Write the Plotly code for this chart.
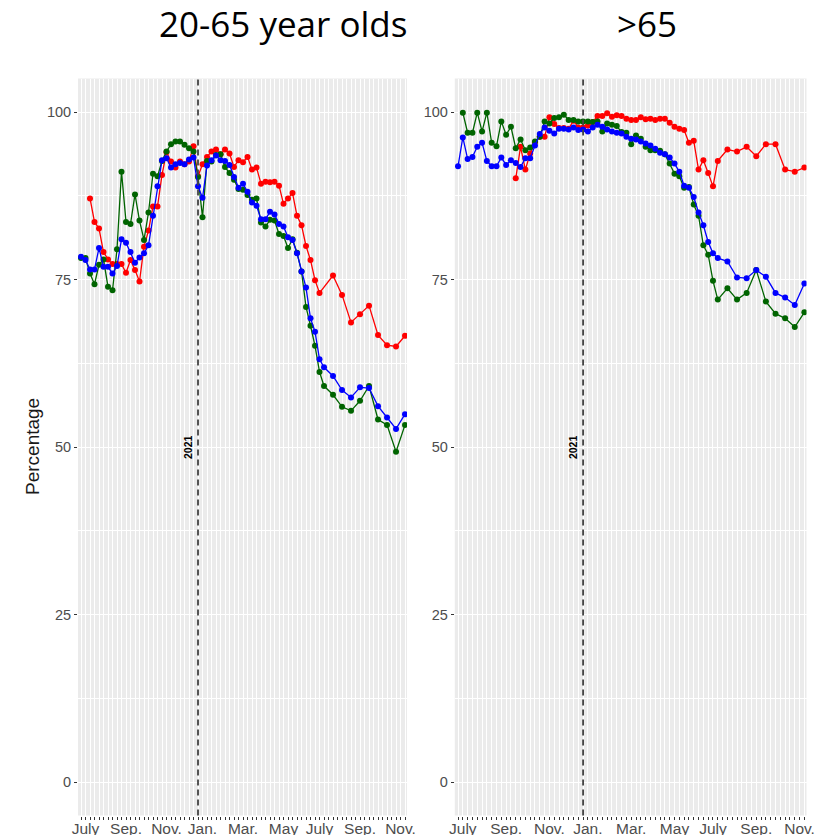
import plotly.graph_objects as go
import pandas as pd

# ---------------- data ----------------
week_start = "2020-07-03"
n_weeks = 73
weeks = [d.strftime("%Y-%m-%d") for d in pd.date_range(week_start, periods=n_weeks, freq="7D")]

tick_weeks = [1, 10, 19, 27, 36, 45, 53, 62, 71]
tick_text = ["July", "Sep.", "Nov.", "Jan.", "Mar.", "May", "July", "Sep.", "Nov."]

N = None
# 20-65 year olds
red_2065 = [N, N, 87.1, 83.6, 82.6, 79.1, 78.0, 77.3, 77.3, 77.3, 76.0, 77.9, 76.4, 74.7, 79.9, 82.3,
            85.9, 85.9, 90.6, 94.0, 92.6, 91.7, 92.6, 92.2, 92.6, 94.9, 90.4, 92.2, 93.3, 94.1, 94.4,
            93.7, 94.4, 93.8, 91.8, 92.8, 92.5, 93.3, 91.4, 91.7, 89.3, 89.6, 89.5, 89.6, 89.0, 86.3,
            87.1, 87.9, 84.5, 83.1, 80.0, 77.9, 74.9, 73.0, N, N, 75.6, N, 72.7, N, 68.6, N, 69.8, N,
            71.1, N, 66.7, N, 65.2, N, 65.0, N, 66.6]
green_2065 = [78.2, 78.2, 75.9, 74.3, 77.2, 78.0, 73.9, 73.4, 79.5, 91.1, 83.6, 83.3, 87.7, 83.8, 80.9,
              85.0, 90.8, 90.4, 92.7, 94.1, 95.2, 95.6, 95.6, 95.1, 94.6, 94.1, 90.3, 84.3, 92.7, 92.6,
              93.6, 93.7, 91.8, 90.9, 89.9, 88.5, 88.4, 87.6, 86.9, 87.1, 83.5, 82.9, 83.9, 83.8, 81.8,
              81.5, 79.7, 81.0, 79.0, 76.2, 70.9, 68.1, 65.1, 61.2, 59.1, N, 57.8, N, 56.0, N, 55.4, N,
              56.9, N, 59.1, N, 54.1, N, 53.3, N, 49.3, N, 53.3]
blue_2065 = [78.4, 77.9, 76.5, 76.5, 79.7, 76.9, 76.9, 75.9, 77.0, 81.0, 80.5, 79.1, 77.5, 78.3, 78.9,
             80.1, 84.5, 88.9, 92.8, 93.1, 91.7, 92.2, 92.4, 92.2, 92.9, 93.2, 88.9, 87.2, 92.0, 92.8,
             93.5, 92.8, 92.7, 92.1, 90.3, 88.7, 89.3, 88.1, 86.5, 86.0, 84.0, 84.0, 85.1, 84.7, 83.3,
             82.9, 81.3, 80.9, 78.9, 76.2, 73.8, 69.2, 67.2, 63.1, 61.9, N, 60.6, N, 58.5, N, 57.4, N,
             58.9, N, 58.8, N, 56.1, N, 54.4, N, 52.7, N, 54.9]
# >65
red_65 = [N, N, N, N, N, N, N, N, N, N, N, N, 90.1, 94.8, 91.4, 93.8, 95.5, 96.3, 96.3, 99.2, 98.2,
          97.6, 97.6, 97.5, 98.7, 97.7, 97.7, 98.0, 98.5, 99.4, 99.4, 99.8, 99.3, 99.5, 99.4, 99.0,
          98.8, 98.8, 99.2, 98.9, 99.0, 98.8, 99.0, 99.0, 98.4, 97.8, 97.5, 97.3, 95.4, 95.7, 91.4,
          92.8, 90.9, 88.9, 92.7, N, 94.4, N, 94.1, N, 94.8, N, 93.4, N, 95.2, N, 95.2, N, 91.4, N,
          91.1, N, 91.7]
green_65 = [N, 99.9, 96.9, 96.9, 99.9, 97.1, 99.9, 95.4, 94.9, 98.6, 96.6, 97.8, 94.6, 95.9, 94.3, 94.7,
            95.6, 96.3, 98.6, 98.3, 99.1, 99.2, 99.6, 98.8, 98.8, 98.6, 98.6, 98.6, 98.5, 98.6, 97.1,
            98.3, 98.1, 97.9, 97.0, 96.9, 95.2, 96.5, 96.0, 94.8, 94.3, 94.3, 94.2, 93.7, 92.3, 90.8,
            90.4, 88.7, 88.8, 86.2, 84.5, 80.1, 78.7, 74.8, 72.0, N, 73.7, N, 72.0, N, 73.0, N, 76.4, N,
            71.7, N, 69.9, N, 69.2, N, 67.9, N, 70.1]
blue_65 = [91.9, 96.2, 93.0, 93.3, 94.8, 95.4, 92.7, 91.9, 91.9, 93.2, 92.1, 92.8, 92.4, 91.8, 93.1, 93.1,
           95.0, 96.7, 97.7, 97.2, 96.8, 97.5, 97.5, 97.4, 97.7, 97.3, 97.4, 97.1, 97.7, 98.1, 97.8,
           97.4, 97.1, 96.9, 96.8, 96.3, 96.0, 95.9, 95.6, 95.3, 95.0, 94.5, 93.9, 93.7, 93.2, 92.3,
           91.1, 89.0, 88.7, 87.3, 85.0, 83.1, 80.6, 78.9, 78.2, N, 77.7, N, 75.3, N, 75.2, N, 76.4, N,
           75.4, N, 73.0, N, 72.3, N, 71.2, N, 74.4]

panel_titles = ["20-65 year olds", ">65"]
y_ticks = [0, 25, 50, 75, 100]
y_minor = [12.5, 37.5, 62.5, 87.5]
marker_year = "2021-01-01"

# ---------------- figure ----------------
# the page body adds an 8px margin, so the figure is 8px smaller and every
# position below is given in page pixels, converted to figure pixels (- 8)
W, H = 830, 827
OFF = 8
COL = {"red": "#FF0000", "green": "#006400", "blue": "#0000FF"}


def px_x(v):
    return (v - OFF) / W


def px_y(v):
    return (H - (v - OFF)) / H


fig = go.Figure()

panels = [
    ("x", "y", red_2065, green_2065, blue_2065),
    ("x2", "y2", red_65, green_65, blue_65),
]
for xa, ya, r, g, b in panels:
    for name, vals in (("red", r), ("green", g), ("blue", b)):
        fig.add_trace(go.Scatter(
            x=weeks, y=vals, xaxis=xa, yaxis=ya, mode="lines+markers",
            connectgaps=True, showlegend=False,
            line=dict(color=COL[name], width=1.3),
            marker=dict(color=COL[name], size=6),
        ))

ticktext_full = [""] * n_weeks
for i, t in zip(tick_weeks, tick_text):
    ticktext_full[i] = t

x_range = ["2020-06-28 08:00", "2021-11-22 02:00"]
xtickfont = dict(family="Liberation Sans, Arial, sans-serif", size=15.5, color="#4D4D4D")
ytickfont = dict(family="Liberation Sans, Arial, sans-serif", size=14.5, color="#4D4D4D")
ydom = [px_y(815.5), px_y(78.5)]

xcommon = dict(
    type="date", range=x_range, tickmode="array", tickvals=weeks, ticktext=ticktext_full,
    showgrid=True, gridcolor="white", gridwidth=1, zeroline=False, showline=False,
    ticks="outside", ticklen=3, tickwidth=1, tickcolor="#333333", tickfont=xtickfont,
    tickangle=0, automargin=False, ticklabelstandoff=-4,
)
ycommon = dict(
    range=[-5, 105], tickmode="array", tickvals=y_ticks, ticktext=[str(v) for v in y_ticks],
    showgrid=True, gridcolor="white", gridwidth=1.2, zeroline=False, showline=False,
    ticks="outside", ticklen=3, tickwidth=1, tickcolor="#333333", tickfont=ytickfont,
    minor=dict(tickvals=y_minor, showgrid=True, gridcolor="white", gridwidth=0.6),
    domain=ydom, automargin=False,
)

fig.update_layout(
    width=W, height=H, margin=dict(l=0, r=0, t=0, b=0, autoexpand=False),
    paper_bgcolor="white", plot_bgcolor="#EBEBEB",
    xaxis=dict(domain=[px_x(78), px_x(407)], anchor="y", **xcommon),
    yaxis=dict(anchor="x", **ycommon),
    xaxis2=dict(domain=[px_x(454.8), px_x(806.5)], anchor="y2", **xcommon),
    yaxis2=dict(anchor="x2", **ycommon),
)

# dashed year line + "2021" label in each panel
for xr, yr in (("x", "y"), ("x2", "y2")):
    fig.add_shape(type="line", xref=xr, yref=f"{yr} domain", x0=marker_year, x1=marker_year,
                  y0=0, y1=1, line=dict(color="#444444", width=1.8, dash="6px,4px"))
    fig.add_annotation(xref=xr, yref=yr, x=marker_year, y=50, text="<b>2021</b>",
                       textangle=-90, showarrow=False, xshift=-10,
                       font=dict(family="Liberation Sans, Arial, sans-serif", size=10.5, color="black"))

# panel titles
for txt, cx in zip(panel_titles, (283, 647)):
    fig.add_annotation(xref="paper", yref="paper", x=px_x(cx), y=px_y(23), text=txt,
                       showarrow=False, xanchor="center", yanchor="middle",
                       font=dict(family="Open Sans, Noto Sans, sans-serif", size=35, color="black"))

# y-axis title
fig.add_annotation(xref="paper", yref="paper", x=px_x(32), y=px_y(447), text="Percentage",
                   textangle=-90, showarrow=False, xanchor="center", yanchor="middle",
                   font=dict(family="Liberation Sans, Arial, sans-serif", size=19, color="#1a1a1a"))

fig.write_html("out.html")
